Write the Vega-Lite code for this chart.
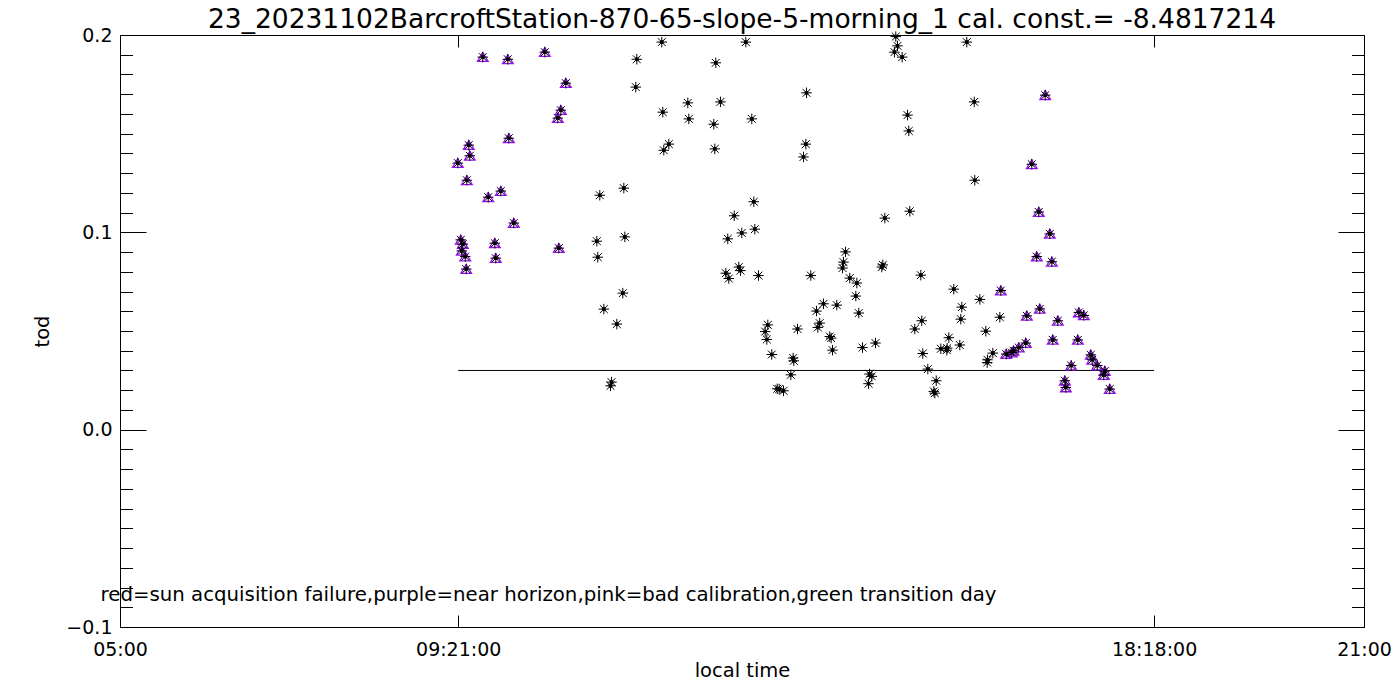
{
  "$schema": "https://vega.github.io/schema/vega-lite/v6.json",
  "autosize": {"type": "none"},
  "width": 1244,
  "height": 592,
  "padding": {"left": 120, "top": 35, "right": 36, "bottom": 73},
  "background": "white",
  "title": {
    "text": "23_20231102BarcroftStation-870-65-slope-5-morning_1 cal. const.= -8.4817214",
    "font": "DejaVu Sans",
    "fontSize": 26.5,
    "fontWeight": "normal",
    "color": "black",
    "anchor": "middle",
    "offset": -7
  },
  "config": {
    "view": {"stroke": null},
    "axis": {
      "domainColor": "black",
      "domainWidth": 1,
      "tickColor": "black",
      "tickWidth": 1,
      "grid": false,
      "labelFont": "DejaVu Sans",
      "labelFontSize": 19,
      "labelColor": "black",
      "titleFont": "DejaVu Sans",
      "titleFontSize": 19.5,
      "titleFontWeight": "normal",
      "titleColor": "black"
    }
  },
  "datasets": {
    "pts": [
      {"t": 9.345, "v": 0.1351, "c": "p"},
      {"t": 9.383, "v": 0.0962, "c": "p"},
      {"t": 9.409, "v": 0.0940, "c": "p"},
      {"t": 9.396, "v": 0.0906, "c": "p"},
      {"t": 9.440, "v": 0.0877, "c": "p"},
      {"t": 9.453, "v": 0.0814, "c": "p"},
      {"t": 9.486, "v": 0.1442, "c": "p"},
      {"t": 9.499, "v": 0.1388, "c": "p"},
      {"t": 9.461, "v": 0.1264, "c": "p"},
      {"t": 9.666, "v": 0.1888, "c": "p"},
      {"t": 9.736, "v": 0.1178, "c": "p"},
      {"t": 9.821, "v": 0.0945, "c": "p"},
      {"t": 9.833, "v": 0.0869, "c": "p"},
      {"t": 9.898, "v": 0.1209, "c": "p"},
      {"t": 9.988, "v": 0.1877, "c": "p"},
      {"t": 10.001, "v": 0.1477, "c": "p"},
      {"t": 10.065, "v": 0.1047, "c": "p"},
      {"t": 10.464, "v": 0.1913, "c": "p"},
      {"t": 10.631, "v": 0.1579, "c": "p"},
      {"t": 10.670, "v": 0.1619, "c": "p"},
      {"t": 10.734, "v": 0.1756, "c": "p"},
      {"t": 10.644, "v": 0.0920, "c": "p"},
      {"t": 16.329, "v": 0.0705, "c": "p"},
      {"t": 16.900, "v": 0.1695, "c": "p"},
      {"t": 16.727, "v": 0.1345, "c": "p"},
      {"t": 16.817, "v": 0.1103, "c": "p"},
      {"t": 16.959, "v": 0.0992, "c": "p"},
      {"t": 16.791, "v": 0.0877, "c": "p"},
      {"t": 16.985, "v": 0.0851, "c": "p"},
      {"t": 16.663, "v": 0.0577, "c": "p"},
      {"t": 16.830, "v": 0.0612, "c": "p"},
      {"t": 17.062, "v": 0.0552, "c": "p"},
      {"t": 17.332, "v": 0.0594, "c": "p"},
      {"t": 17.396, "v": 0.0579, "c": "p"},
      {"t": 16.997, "v": 0.0455, "c": "p"},
      {"t": 17.319, "v": 0.0455, "c": "p"},
      {"t": 16.650, "v": 0.0439, "c": "p"},
      {"t": 16.560, "v": 0.0416, "c": "p"},
      {"t": 16.492, "v": 0.0400, "c": "p"},
      {"t": 16.470, "v": 0.0391, "c": "p"},
      {"t": 16.398, "v": 0.0383, "c": "p"},
      {"t": 17.234, "v": 0.0325, "c": "p"},
      {"t": 17.486, "v": 0.0379, "c": "p"},
      {"t": 17.504, "v": 0.0354, "c": "p"},
      {"t": 17.569, "v": 0.0325, "c": "p"},
      {"t": 17.666, "v": 0.0297, "c": "p"},
      {"t": 17.653, "v": 0.0277, "c": "p"},
      {"t": 17.152, "v": 0.0248, "c": "p"},
      {"t": 17.165, "v": 0.0214, "c": "p"},
      {"t": 17.730, "v": 0.0206, "c": "p"},
      {"t": 11.968, "v": 0.1964, "c": "b"},
      {"t": 11.647, "v": 0.1877, "c": "b"},
      {"t": 11.634, "v": 0.1736, "c": "b"},
      {"t": 11.981, "v": 0.1609, "c": "b"},
      {"t": 12.059, "v": 0.1447, "c": "b"},
      {"t": 11.994, "v": 0.1416, "c": "b"},
      {"t": 11.480, "v": 0.1224, "c": "b"},
      {"t": 11.171, "v": 0.1188, "c": "b"},
      {"t": 11.493, "v": 0.0977, "c": "b"},
      {"t": 11.133, "v": 0.0955, "c": "b"},
      {"t": 11.145, "v": 0.0874, "c": "b"},
      {"t": 11.467, "v": 0.0692, "c": "b"},
      {"t": 11.223, "v": 0.0611, "c": "b"},
      {"t": 11.390, "v": 0.0535, "c": "b"},
      {"t": 11.322, "v": 0.0241, "c": "b"},
      {"t": 11.309, "v": 0.0222, "c": "b"},
      {"t": 13.049, "v": 0.1964, "c": "b"},
      {"t": 12.663, "v": 0.1859, "c": "b"},
      {"t": 13.830, "v": 0.1707, "c": "b"},
      {"t": 12.303, "v": 0.1656, "c": "b"},
      {"t": 12.723, "v": 0.1661, "c": "b"},
      {"t": 12.316, "v": 0.1575, "c": "b"},
      {"t": 12.637, "v": 0.1548, "c": "b"},
      {"t": 13.126, "v": 0.1575, "c": "b"},
      {"t": 12.650, "v": 0.1423, "c": "b"},
      {"t": 13.821, "v": 0.1447, "c": "b"},
      {"t": 13.791, "v": 0.1382, "c": "b"},
      {"t": 14.978, "v": 0.1992, "c": "b"},
      {"t": 15.000, "v": 0.1945, "c": "b"},
      {"t": 14.961, "v": 0.1913, "c": "b"},
      {"t": 15.060, "v": 0.1888, "c": "b"},
      {"t": 15.129, "v": 0.1594, "c": "b"},
      {"t": 15.145, "v": 0.1514, "c": "b"},
      {"t": 13.152, "v": 0.1155, "c": "b"},
      {"t": 12.900, "v": 0.1084, "c": "b"},
      {"t": 13.165, "v": 0.1016, "c": "b"},
      {"t": 12.997, "v": 0.0997, "c": "b"},
      {"t": 12.817, "v": 0.0967, "c": "b"},
      {"t": 14.837, "v": 0.1072, "c": "b"},
      {"t": 15.158, "v": 0.1107, "c": "b"},
      {"t": 14.331, "v": 0.0901, "c": "b"},
      {"t": 14.305, "v": 0.0849, "c": "b"},
      {"t": 14.293, "v": 0.0819, "c": "b"},
      {"t": 14.811, "v": 0.0835, "c": "b"},
      {"t": 14.798, "v": 0.0824, "c": "b"},
      {"t": 12.792, "v": 0.0793, "c": "b"},
      {"t": 12.830, "v": 0.0766, "c": "b"},
      {"t": 12.959, "v": 0.0824, "c": "b"},
      {"t": 12.981, "v": 0.0806, "c": "b"},
      {"t": 13.212, "v": 0.0781, "c": "b"},
      {"t": 13.885, "v": 0.0781, "c": "b"},
      {"t": 14.386, "v": 0.0768, "c": "b"},
      {"t": 14.477, "v": 0.0743, "c": "b"},
      {"t": 14.464, "v": 0.0677, "c": "b"},
      {"t": 14.502, "v": 0.0591, "c": "b"},
      {"t": 14.219, "v": 0.0631, "c": "b"},
      {"t": 14.048, "v": 0.0638, "c": "b"},
      {"t": 13.958, "v": 0.0601, "c": "b"},
      {"t": 13.999, "v": 0.0540, "c": "b"},
      {"t": 13.975, "v": 0.0518, "c": "b"},
      {"t": 14.129, "v": 0.0472, "c": "b"},
      {"t": 14.147, "v": 0.0464, "c": "b"},
      {"t": 14.164, "v": 0.0403, "c": "b"},
      {"t": 14.550, "v": 0.0416, "c": "b"},
      {"t": 14.717, "v": 0.0439, "c": "b"},
      {"t": 13.332, "v": 0.0531, "c": "b"},
      {"t": 13.298, "v": 0.0497, "c": "b"},
      {"t": 13.319, "v": 0.0457, "c": "b"},
      {"t": 13.383, "v": 0.0381, "c": "b"},
      {"t": 13.714, "v": 0.0510, "c": "b"},
      {"t": 13.658, "v": 0.0363, "c": "b"},
      {"t": 13.666, "v": 0.0349, "c": "b"},
      {"t": 13.628, "v": 0.0278, "c": "b"},
      {"t": 13.478, "v": 0.0206, "c": "b"},
      {"t": 13.453, "v": 0.0207, "c": "b"},
      {"t": 13.534, "v": 0.0197, "c": "b"},
      {"t": 14.640, "v": 0.0282, "c": "b"},
      {"t": 14.669, "v": 0.0270, "c": "b"},
      {"t": 14.627, "v": 0.0233, "c": "b"},
      {"t": 15.300, "v": 0.0783, "c": "b"},
      {"t": 15.724, "v": 0.0712, "c": "b"},
      {"t": 15.312, "v": 0.0552, "c": "b"},
      {"t": 15.222, "v": 0.0510, "c": "b"},
      {"t": 15.660, "v": 0.0466, "c": "b"},
      {"t": 15.557, "v": 0.0410, "c": "b"},
      {"t": 15.639, "v": 0.0413, "c": "b"},
      {"t": 15.634, "v": 0.0403, "c": "b"},
      {"t": 15.325, "v": 0.0386, "c": "b"},
      {"t": 15.390, "v": 0.0307, "c": "b"},
      {"t": 15.498, "v": 0.0248, "c": "b"},
      {"t": 15.467, "v": 0.0194, "c": "b"},
      {"t": 15.480, "v": 0.0185, "c": "b"},
      {"t": 15.891, "v": 0.1964, "c": "b"},
      {"t": 15.987, "v": 0.1661, "c": "b"},
      {"t": 15.994, "v": 0.1264, "c": "b"},
      {"t": 15.801, "v": 0.0429, "c": "b"},
      {"t": 15.827, "v": 0.0621, "c": "b"},
      {"t": 15.814, "v": 0.0560, "c": "b"},
      {"t": 16.059, "v": 0.0660, "c": "b"},
      {"t": 16.136, "v": 0.0499, "c": "b"},
      {"t": 16.316, "v": 0.0570, "c": "b"},
      {"t": 16.226, "v": 0.0388, "c": "b"},
      {"t": 16.158, "v": 0.0354, "c": "b"},
      {"t": 16.154, "v": 0.0340, "c": "b"}
    ],
    "ref": [{"t1": 9.35, "t2": 18.3, "v": 0.03}],
    "note": [{"t": 4.75, "v": -0.0867, "label": "red=sun acquisition failure,purple=near horizon,pink=bad calibration,green transition day"}]
  },
  "resolve": {"axis": {"x": "independent", "y": "independent"}},
  "layer": [
    {
      "data": {"name": "ref"},
      "mark": {"type": "rule", "color": "black", "strokeWidth": 1},
      "encoding": {
        "x": {
          "field": "t1", "type": "quantitative",
          "scale": {"domain": [5, 21], "nice": false, "zero": false},
          "axis": {
            "orient": "bottom",
            "title": "local time",
            "titlePadding": 2,
            "values": [5, 9.35, 18.3, 21],
            "labelExpr": "datum.value == 5 ? '05:00' : datum.value == 21 ? '21:00' : datum.value < 10 ? '09:21:00' : '18:18:00'",
            "tickSize": -12,
            "labelPadding": 25,
            "labelFlush": false,
            "labelOverlap": false
          }
        },
        "x2": {"field": "t2"},
        "y": {
          "field": "v", "type": "quantitative",
          "scale": {"domain": [-0.1, 0.2], "nice": false, "zero": false},
          "axis": {
            "orient": "left",
            "title": "tod",
            "titlePadding": 13,
            "values": [-0.1, 0, 0.1, 0.2],
            "labelExpr": "format(datum.value, '.1f')",
            "tickSize": -26,
            "labelPadding": 34,
            "labelFlush": false,
            "labelOverlap": false
          }
        }
      }
    },
    {
      "data": {"name": "pts"},
      "transform": [{"filter": "datum.c == 'p'"}],
      "mark": {
        "type": "point",
        "shape": "M0,-0.85L1,0.8L-1,0.8Z",
        "filled": false,
        "stroke": "#9a10f5",
        "strokeWidth": 1.3,
        "size": 115,
        "opacity": 1
      },
      "encoding": {
        "x": {
          "field": "t", "type": "quantitative",
          "scale": {"domain": [5, 21], "nice": false, "zero": false},
          "axis": {
            "orient": "top",
            "title": null,
            "labels": false,
            "values": [5, 9.35, 18.3, 21],
            "tickSize": -12
          }
        },
        "y": {
          "field": "v", "type": "quantitative",
          "scale": {"domain": [-0.1, 0.2], "nice": false, "zero": false},
          "axis": {
            "orient": "left",
            "title": null,
            "labels": false,
            "domain": false,
            "values": [-0.09, -0.08, -0.07, -0.06, -0.05, -0.04, -0.03, -0.02, -0.01, 0.01, 0.02, 0.03, 0.04, 0.05, 0.06, 0.07, 0.08, 0.09, 0.11, 0.12, 0.13, 0.14, 0.15, 0.16, 0.17, 0.18, 0.19],
            "tickSize": -12.5
          }
        }
      }
    },
    {
      "data": {"name": "pts"},
      "mark": {
        "type": "point",
        "shape": "M-1,0L1,0M0,-1L0,1M-0.75,-0.75L0.75,0.75M-0.75,0.75L0.75,-0.75M-0.25,-0.25L0.25,-0.25L0.25,0.25L-0.25,0.25Z",
        "filled": true,
        "fill": "black",
        "stroke": "black",
        "strokeWidth": 1,
        "size": 110,
        "opacity": 1
      },
      "encoding": {
        "x": {
          "field": "t", "type": "quantitative",
          "scale": {"domain": [5, 21], "nice": false, "zero": false},
          "axis": null
        },
        "y": {
          "field": "v", "type": "quantitative",
          "scale": {"domain": [-0.1, 0.2], "nice": false, "zero": false},
          "axis": {
            "orient": "right",
            "title": null,
            "labels": false,
            "values": [-0.1, 0, 0.1, 0.2],
            "tickSize": -26
          }
        }
      }
    },
    {
      "data": {"name": "note"},
      "mark": {
        "type": "text",
        "align": "left",
        "baseline": "alphabetic",
        "font": "DejaVu Sans",
        "fontSize": 19.75,
        "color": "black"
      },
      "encoding": {
        "x": {
          "field": "t", "type": "quantitative",
          "scale": {"domain": [5, 21], "nice": false, "zero": false},
          "axis": null
        },
        "y": {
          "field": "v", "type": "quantitative",
          "scale": {"domain": [-0.1, 0.2], "nice": false, "zero": false},
          "axis": {
            "orient": "right",
            "title": null,
            "labels": false,
            "domain": false,
            "values": [-0.09, -0.08, -0.07, -0.06, -0.05, -0.04, -0.03, -0.02, -0.01, 0.01, 0.02, 0.03, 0.04, 0.05, 0.06, 0.07, 0.08, 0.09, 0.11, 0.12, 0.13, 0.14, 0.15, 0.16, 0.17, 0.18, 0.19],
            "tickSize": -12.5
          }
        },
        "text": {"field": "label"}
      }
    }
  ]
}
